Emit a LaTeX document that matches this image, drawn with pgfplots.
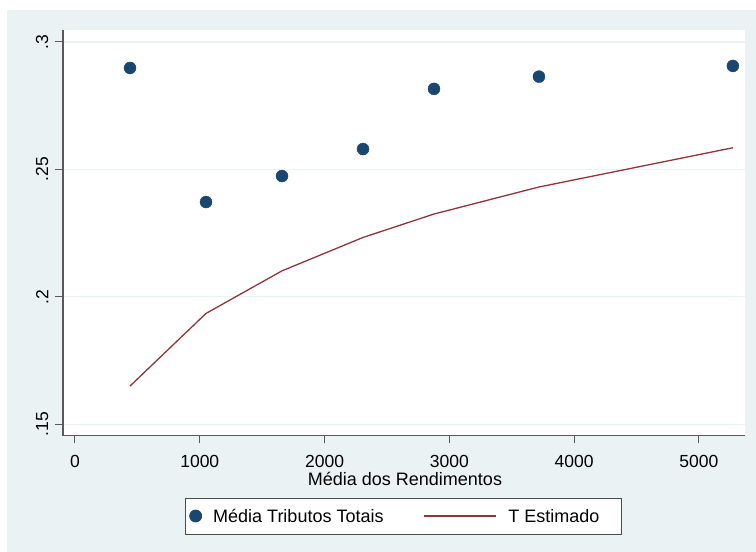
\documentclass[border=0pt]{standalone}
\usepackage{fontspec}
\setmainfont{Liberation Sans}
\usepackage{pgfplots}
\pgfplotsset{compat=1.18}
\definecolor{bg}{HTML}{EAF2F3}
\definecolor{stnavy}{RGB}{26,71,111}
\definecolor{stmaroon}{RGB}{144,53,59}
\pgfplotsset{
  markleg/.style={legend image code/.code={\draw[##1] plot coordinates {(6pt,0pt)};}},
  lineleg/.style={legend image code/.code={\draw[##1] (0pt,0pt) -- (72pt,0pt);}},
}
\begin{document}
\begin{tikzpicture}[x=1pt,y=1pt]
\path[use as bounding box] (0,0) rectangle (756,552);
\fill[bg] (7,0) rectangle (756,542);
\begin{axis}[
  at={(63pt,116pt)}, anchor=south west,
  scale only axis, width=682pt, height=406pt,
  xmin=-96, xmax=5369, ymin=0.1454, ymax=0.3047,
  axis background/.style={fill=white},
  axis x line*=bottom, axis y line*=left,
  axis line style={black!65, line width=1pt},
  every tick/.style={black!65, line width=1pt},
  tick align=outside, major tick length=7.5pt,
  scaled ticks=false,
  xtick={0,1000,2000,3000,4000,5000},
  xticklabels={0,1000,2000,3000,4000,5000},
  ytick={0.15,0.2,0.25,0.3},
  yticklabels={.15,.2,.25,.3},
  tick label style={font=\fontsize{17.5}{20}\selectfont, inner sep=0pt},
  xticklabel style={anchor=north, yshift=-12pt},
  yticklabel style={xshift=-7pt, rotate=90, anchor=south},
  ymajorgrids, grid style={bg, line width=1.2pt},
  xlabel={Média dos Rendimentos},
  xlabel style={at={(axis description cs:0.5,0)}, anchor=base, yshift=-49pt, xshift=1pt,
    font=\fontsize{18}{21}\selectfont, inner sep=0pt},
  legend columns=2,
  legend style={at={(axis description cs:0.4993,-0.19704)}, anchor=center,
    draw=black!70, line width=0.8pt, fill=white,
    inner xsep=4pt, inner ysep=11.5pt,
    font=\fontsize{18}{21}\selectfont,
    nodes={inner sep=0pt, text height=13pt, text depth=0pt},
    /tikz/every odd column/.append style={column sep=11.5pt},
    /tikz/every even column/.append style={column sep=40pt}},
]
\addplot[only marks, mark=*, mark size=6pt, color=stnavy, markleg]
  coordinates {
  (441, 0.2898)
  (1050, 0.2372)
  (1659, 0.2474)
  (2308, 0.2580)
  (2877, 0.2816)
  (3718, 0.2864)
  (5272, 0.2906)
};
\addlegendentry{Média Tributos Totais}
\addplot[stmaroon, line width=1.3pt, mark=none, lineleg]
  coordinates {
  (441, 0.1650)
  (1050, 0.1935)
  (1659, 0.2102)
  (2308, 0.2233)
  (2877, 0.2325)
  (3718, 0.2431)
  (5272, 0.2585)
};
\addlegendentry{T Estimado\hspace*{18pt}}
\end{axis}
\end{tikzpicture}
\end{document}
